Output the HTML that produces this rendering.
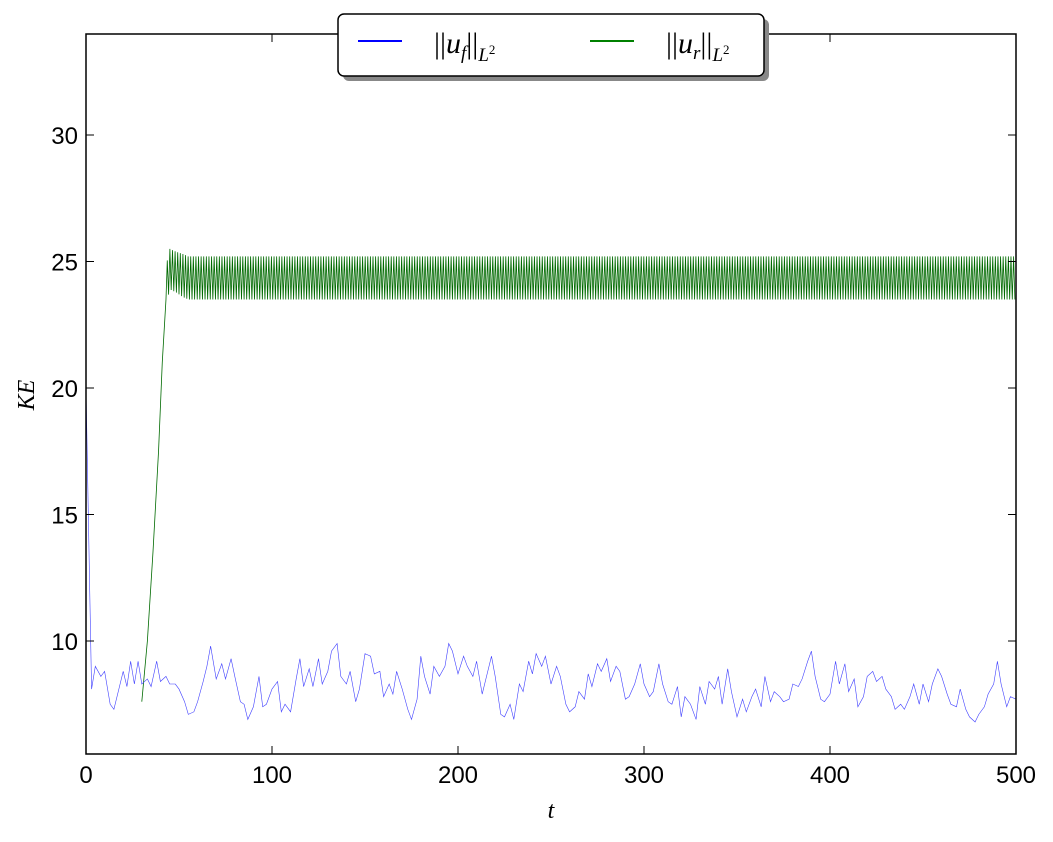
<!DOCTYPE html>
<html><head><meta charset="utf-8"><style>
body{margin:0;background:#fff;}
svg text{font-family:"Liberation Sans",sans-serif;}
</style></head><body>
<svg id="chart" width="1053" height="837" xmlns="http://www.w3.org/2000/svg">
<rect x="0" y="0" width="1053" height="837" fill="#fff"/>
<g id="plot"></g>
<rect x="86" y="34" width="930" height="720" fill="none" stroke="#000" stroke-width="1.5"/>
<g id="ticks"></g>
<text x="551" y="818" font-size="24" font-style="italic" text-anchor="middle" style="font-family:'Liberation Serif',serif">t</text>
<text transform="translate(34,395) rotate(-90)" font-size="24" font-style="italic" text-anchor="middle" style="font-family:'Liberation Serif',serif">KE</text>
<g>
<rect x="343" y="19" width="426" height="62" rx="6" fill="#888"/>
<rect x="338" y="14" width="426" height="62" rx="6" fill="#fff" stroke="#000" stroke-width="1.5"/>
<line x1="358" y1="41" x2="402" y2="41" stroke="#0000ff" stroke-width="2"/>
<text x="434" y="53" font-size="30" style="font-family:'Liberation Serif',serif">||<tspan font-style="italic">u</tspan><tspan font-size="19" font-style="italic" dy="6">f</tspan><tspan dy="-6">||</tspan><tspan font-size="19" font-style="italic" dy="8">L</tspan><tspan font-size="13" dy="-7">2</tspan></text>
<line x1="590" y1="41" x2="634" y2="41" stroke="#008000" stroke-width="2"/>
<text x="666" y="53" font-size="30" style="font-family:'Liberation Serif',serif">||<tspan font-style="italic">u</tspan><tspan font-size="19" font-style="italic" dy="6">r</tspan><tspan dy="-6">||</tspan><tspan font-size="19" font-style="italic" dy="8">L</tspan><tspan font-size="13" dy="-7">2</tspan></text>
</g>
</svg>
<script>
const xTicks=[0,100,200,300,400,500];
const yTicks=[10,15,20,25,30];
const blueT=[0,2,3,5,8,10,13,15,18,20,22,24,26,28,30,33,35,38,40,43,45,48,50,53,55,58,60,63,65,67,70,73,75,78,80,83,85,87,90,93,95,97,100,103,105,107,110,113,115,117,120,122,125,127,130,132,135,137,140,142,145,147,150,153,155,158,160,163,165,167,170,173,175,178,180,182,185,187,190,193,195,197,200,203,205,208,210,213,215,218,220,223,225,228,230,233,235,238,240,242,245,247,250,253,255,258,260,263,265,268,270,272,275,277,280,282,285,287,290,292,295,298,300,303,305,308,310,313,315,318,320,322,325,328,330,333,335,338,340,342,345,347,350,353,355,358,360,363,365,368,370,373,375,378,380,383,385,388,390,392,395,397,400,403,405,408,410,413,415,418,420,423,425,428,430,433,435,438,440,443,445,448,450,453,455,458,460,463,465,468,470,473,475,478,480,483,485,488,490,492,495,497,500];
const blueV=[20,12,8.1,9,8.6,8.8,7.5,7.3,8.2,8.8,8.2,9.2,8.3,9.2,8.3,8.5,8.2,9.2,8.4,8.6,8.3,8.3,8.1,7.6,7.1,7.2,7.6,8.4,9.0,9.8,8.5,9.1,8.5,9.3,8.6,7.6,7.5,6.9,7.4,8.6,7.4,7.5,8.1,8.4,7.2,7.5,7.2,8.5,9.3,8.2,8.9,8.2,9.3,8.3,8.8,9.6,9.9,8.6,8.3,8.8,7.6,8.1,9.5,9.4,8.7,8.8,7.8,8.3,7.9,8.8,8.1,7.3,6.9,7.7,9.4,8.6,7.9,9.0,8.6,9.0,9.9,9.6,8.7,9.4,9.0,8.6,9.2,7.9,8.5,9.4,8.6,7.1,7.0,7.5,6.9,8.3,8.0,9.2,8.7,9.5,9.0,9.4,8.3,9.0,8.6,7.5,7.2,7.4,8.0,7.7,8.7,8.2,9.1,8.8,9.3,8.4,9.0,8.8,7.7,7.8,8.3,9.1,8.3,7.8,8.0,9.1,8.3,7.6,7.5,8.2,7.0,7.8,7.5,6.9,8.2,7.5,8.4,8.1,8.6,7.5,8.9,8.0,7.0,7.7,7.2,7.8,8.1,7.4,8.6,7.6,8.0,7.8,7.6,7.7,8.3,8.2,8.5,9.2,9.6,8.6,7.7,7.6,7.9,9.2,8.3,9.1,8.0,8.5,7.4,7.8,8.6,8.8,8.4,8.6,8.1,7.8,7.3,7.5,7.3,7.8,8.3,7.5,8.3,7.6,8.3,8.9,8.6,7.9,7.5,7.4,8.1,7.3,7.0,6.8,7.1,7.4,7.9,8.3,9.2,8.3,7.4,7.8,7.7];
const greenRampT=[30,33,36,39,41,43];
const greenRampV=[7.6,10,13.5,17.5,21,23.5];
const greenEnvT=[43,45,48,52,55,500];
const greenHi=[24.8,25.5,25.4,25.3,25.2,25.2];
const greenLo=[23.2,23.9,23.8,23.6,23.5,23.5];
const greenPeriod=1.4;

const X=t=>86+t*930/500;
const Y=v=>641-(v-10)*126.5/5;
const ns='http://www.w3.org/2000/svg';
const plot=document.getElementById('plot');
const ticks=document.getElementById('ticks');
function mk(tag,attrs,parent){const e=document.createElementNS(ns,tag);for(const k in attrs)e.setAttribute(k,attrs[k]);parent.appendChild(e);return e;}
function interp(ts,vs,t){for(let i=1;i<ts.length;i++){if(t<=ts[i]){const f=(t-ts[i-1])/(ts[i]-ts[i-1]);return vs[i-1]+f*(vs[i]-vs[i-1]);}}return vs[vs.length-1];}

xTicks.forEach(t=>{
  const l1=mk('line',{x1:X(t),x2:X(t),y1:754,y2:746,stroke:'#000','stroke-width':1},ticks);
  
  
  const l2=mk('line',{x1:X(t),x2:X(t),y1:34,y2:42,stroke:'#000','stroke-width':1},ticks);
  
  
  const tx=mk('text',{x:X(t),y:783,'font-size':24,'text-anchor':'middle'},ticks);
  tx.textContent=t;
  
  
});
yTicks.forEach(v=>{
  const l1=mk('line',{x1:86,x2:94,y1:Y(v),y2:Y(v),stroke:'#000','stroke-width':1},ticks);
  
  
  const l2=mk('line',{x1:1008,x2:1016,y1:Y(v),y2:Y(v),stroke:'#000','stroke-width':1},ticks);
  
  
  const tx=mk('text',{x:78,y:Y(v)+9,'font-size':24,'text-anchor':'end'},ticks);
  tx.textContent=v;
  
  
});

let gp=greenRampT.map((t,i)=>X(t)+','+Y(greenRampV[i]));
let hi=true;
for(let t=greenRampT[greenRampT.length-1]+greenPeriod/2;t<=500;t+=greenPeriod/2){
  const v=hi?interp(greenEnvT,greenHi,t):interp(greenEnvT,greenLo,t);
  gp.push(X(t)+','+Y(v));hi=!hi;
}
const g=mk('polyline',{points:gp.join(' '),fill:'none',stroke:'#006a00','stroke-width':0.8},plot);



const b=mk('polyline',{points:blueT.map((t,i)=>X(t)+','+Y(blueV[i])).join(' '),fill:'none',stroke:'#4040ff','stroke-width':0.6},plot);


</script>
</body></html>
